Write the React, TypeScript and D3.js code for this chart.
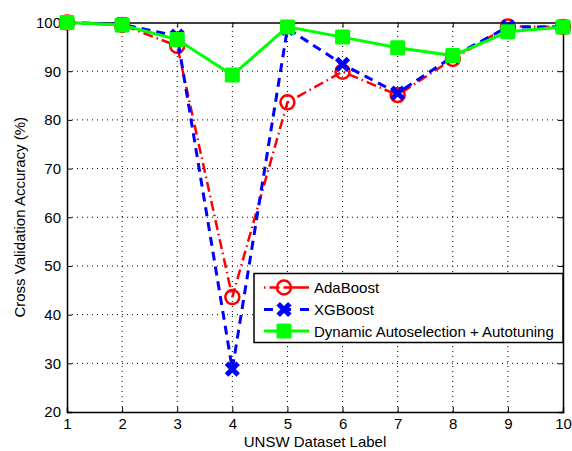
import React, { useEffect, useRef } from "react";
import * as d3 from "d3";

const labels = [1, 2, 3, 4, 5, 6, 7, 8, 9, 10];
const adaBoost = [100, 99.5, 95.2, 43.6, 83.6, 89.9, 85.1, 92.5, 99.2, 99.1];
const xgBoost = [100, 99.6, 97.2, 28.8, 98.8, 91.4, 85.5, 93.0, 99.1, 99.1];
const dynamic = [100, 99.5, 96.5, 89.2, 99.1, 97.0, 94.8, 93.2, 98.1, 99.1];
const yTicks = [20, 30, 40, 50, 60, 70, 80, 90, 100];
const seriesNames = ["AdaBoost", "XGBoost", "Dynamic Autoselection + Autotuning"];

const App = () => {
  const svgRef = useRef<SVGSVGElement>(null);
  const width = 572;
  const height = 451;
  const margin = { left: 67, right: 8, top: 22.5, bottom: 39 };

  useEffect(() => {
    const svg = d3.select(svgRef.current);
    svg.selectAll("*").remove();
    const font = "Liberation Sans, Arial, sans-serif";

    const x = d3.scaleLinear().domain([1, 10]).range([margin.left, width - margin.right - 1]);
    const y = d3.scaleLinear().domain([20, 100]).range([height - margin.bottom, margin.top]);
    const x0 = x.range()[0], x1 = x.range()[1];
    const y0 = y.range()[0], y1 = y.range()[1];

    // white plot background
    svg.append("rect").attr("x", x0).attr("y", y1).attr("width", x1 - x0).attr("height", y0 - y1).attr("fill", "white");

    // dotted grid
    const grid = svg.append("g").attr("stroke", "#000").attr("stroke-width", 1).attr("stroke-dasharray", "1,4");
    labels.slice(1, -1).forEach(d => {
      grid.append("line").attr("x1", x(d)).attr("x2", x(d)).attr("y1", y0).attr("y2", y1);
    });
    yTicks.slice(1, -1).forEach(d => {
      grid.append("line").attr("x1", x0).attr("x2", x1).attr("y1", y(d)).attr("y2", y(d));
    });

    // axes (box)
    const xAxis = d3.axisBottom(x).tickValues(labels).tickSize(-5).tickPadding(6).tickFormat(d3.format("d"));
    const gx = svg.append("g").attr("transform", `translate(0,${y0})`).call(xAxis);
    const xTop = d3.axisTop(x).tickValues(labels).tickSize(-5).tickFormat(() => "");
    svg.append("g").attr("transform", `translate(0,${y1})`).call(xTop);
    const yAxis = d3.axisLeft(y).tickValues(yTicks).tickSize(-5).tickPadding(6);
    const gy = svg.append("g").attr("transform", `translate(${x0},0)`).call(yAxis);
    const yRight = d3.axisRight(y).tickValues(yTicks).tickSize(-5).tickFormat(() => "");
    svg.append("g").attr("transform", `translate(${x1},0)`).call(yRight);
    svg.selectAll(".domain").attr("stroke", "#000").attr("stroke-width", 1.5);
    svg.selectAll(".tick line").attr("stroke", "#000").attr("stroke-width", 1);
    [gx, gy].forEach(g => g.selectAll("text").attr("font-family", font).attr("font-size", 15).attr("fill", "#000"));

    // axis titles
    svg.append("text").attr("x", (x0 + x1) / 2).attr("y", 446.5).attr("text-anchor", "middle")
      .attr("font-family", font).attr("font-size", 15).text("UNSW Dataset Label");
    svg.append("text").attr("transform", `translate(25,${(y0 + y1) / 2}) rotate(-90)`).attr("text-anchor", "middle")
      .attr("font-family", font).attr("font-size", 15).text("Cross Validation Accuracy (%)");

    const line = d3.line<number>().x((_, i) => x(labels[i])).y(d => y(d));

    // AdaBoost
    svg.append("path").datum(adaBoost).attr("d", line).attr("fill", "none").attr("stroke", "#ff0000")
      .attr("stroke-width", 2.5).attr("stroke-dasharray", "10,4,1.5,4");
    svg.append("g").selectAll("circle").data(adaBoost).enter().append("circle")
      .attr("cx", (_, i) => x(labels[i])).attr("cy", d => y(d)).attr("r", 7)
      .attr("fill", "none").attr("stroke", "#ff0000").attr("stroke-width", 2.5);

    // XGBoost
    const cross = d3.symbol().type(d3.symbolX).size(90);
    svg.append("path").datum(xgBoost).attr("d", line).attr("fill", "none").attr("stroke", "#0000ff")
      .attr("stroke-width", 3).attr("stroke-dasharray", "9,6");
    svg.append("g").selectAll("path").data(xgBoost).enter().append("path")
      .attr("d", cross).attr("transform", (d, i) => `translate(${x(labels[i])},${y(d)})`)
      .attr("fill", "none").attr("stroke", "#0000ff").attr("stroke-width", 5);

    // Dynamic
    svg.append("path").datum(dynamic).attr("d", line).attr("fill", "none").attr("stroke", "#00ff00")
      .attr("stroke-width", 3);
    svg.append("g").selectAll("rect").data(dynamic).enter().append("rect")
      .attr("x", (_, i) => x(labels[i]) - 6).attr("y", d => y(d) - 6).attr("width", 12).attr("height", 12)
      .attr("fill", "#00ff00").attr("stroke", "#00ff00").attr("stroke-width", 3).attr("stroke-linejoin", "round");

    // legend
    const lg = svg.append("g");
    lg.append("rect").attr("x", 254).attr("y", 273.5).attr("width", 309).attr("height", 69)
      .attr("fill", "white").attr("stroke", "#000").attr("stroke-width", 1.5);
    const rows = [287.5, 309.5, 331];
    const lx0 = 264, lx1 = 309, lm = 284;
    // Ada row
    lg.append("line").attr("x1", lx0).attr("x2", lx1).attr("y1", rows[0]).attr("y2", rows[0])
      .attr("stroke", "#ff0000").attr("stroke-width", 2.5).attr("stroke-dasharray", "1.5,4,10,4,30");
    lg.append("circle").attr("cx", lm).attr("cy", rows[0]).attr("r", 7).attr("fill", "none")
      .attr("stroke", "#ff0000").attr("stroke-width", 2.5);
    // XGB row
    lg.append("line").attr("x1", lx0).attr("x2", lx1).attr("y1", rows[1]).attr("y2", rows[1])
      .attr("stroke", "#0000ff").attr("stroke-width", 3).attr("stroke-dasharray", "9,9");
    lg.append("path").attr("d", cross).attr("transform", `translate(${lm},${rows[1]})`)
      .attr("fill", "none").attr("stroke", "#0000ff").attr("stroke-width", 5);
    // Dynamic row
    lg.append("line").attr("x1", lx0).attr("x2", lx1).attr("y1", rows[2]).attr("y2", rows[2])
      .attr("stroke", "#00ff00").attr("stroke-width", 3);
    lg.append("rect").attr("x", lm - 6).attr("y", rows[2] - 6).attr("width", 12).attr("height", 12)
      .attr("fill", "#00ff00").attr("stroke", "#00ff00").attr("stroke-width", 3).attr("stroke-linejoin", "round");
    seriesNames.forEach((n, i) => {
      lg.append("text").attr("x", 314).attr("y", rows[i] + 5.5).attr("font-family", font).attr("font-size", 15)
        .attr("fill", "#000").text(n);
    });
  }, []);

  return (
    <svg ref={svgRef} width={width} height={height} style={{ position: "absolute", left: 0, top: 0, background: "white" }} />
  );
};

export default App;
